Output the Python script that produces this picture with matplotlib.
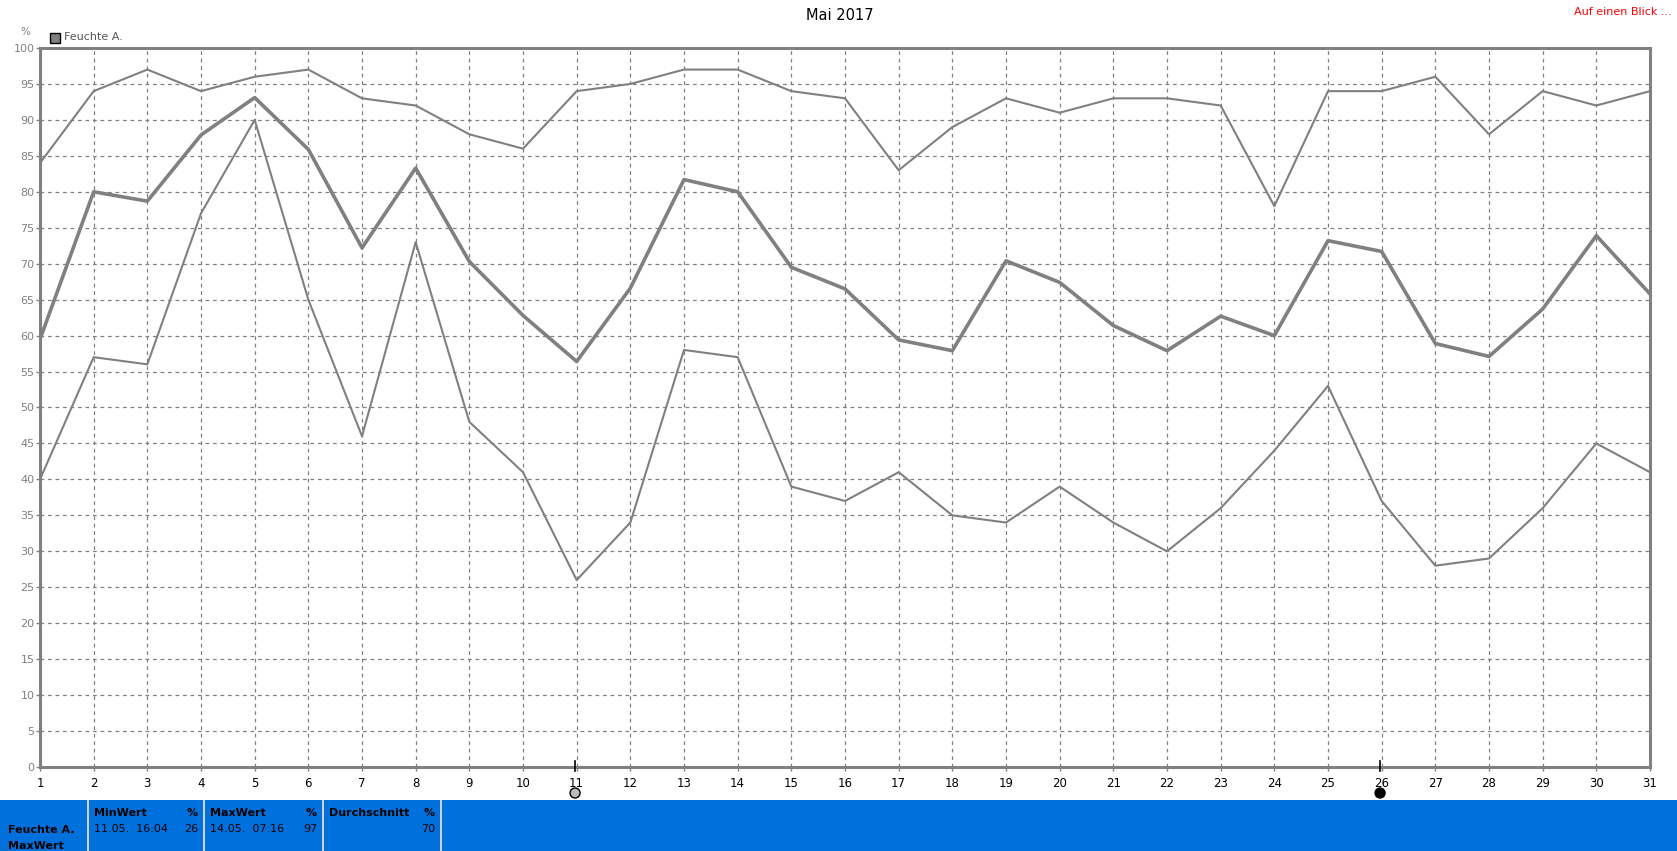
import matplotlib
matplotlib.use("Agg")
import matplotlib.pyplot as plt
from matplotlib.patches import Rectangle, Circle

# Daten: relative Feuchte Mai 2017
days = list(range(1, 32))
feuchte_max = [84, 94, 97, 94, 96, 97, 93, 92, 88, 86, 94, 95, 97, 97, 94, 93,
               83, 89, 93, 91, 93, 93, 92, 78, 94, 94, 96, 88, 94, 92, 94]
feuchte_avg = [59.5, 80, 78.7, 87.9, 93.1, 85.9, 72.2, 83.3, 70.3, 62.8, 56.4, 66.6,
               81.7, 80, 69.5, 66.5, 59.4, 57.9, 70.4, 67.4, 61.4, 57.9, 62.7, 60,
               73.2, 71.7, 58.9, 57.1, 63.7, 73.9, 65.8]
feuchte_min = [40, 57, 56, 77, 90, 65, 46, 73, 48, 41, 26, 34, 58, 57, 39, 37,
               41, 35, 34, 39, 34, 30, 36, 44, 53, 37, 28, 29, 36, 45, 41]
yticks = list(range(0, 101, 5))
full_moon_day = 10.97
new_moon_day = 25.97

# Statistik-Leiste
stat_titles = ["MinWert", "MaxWert", "Durchschnitt"]
stat_times = ["11.05.  16:04", "14.05.  07:16", ""]
stat_values = ["26", "97", "70"]

W, H = 1677, 851
fig = plt.figure(figsize=(W / 100, H / 100), dpi=100)
fig.patch.set_facecolor("white")

left, right, top, bottom = 40, 1650, 48, 767
ax = fig.add_axes([left / W, 1 - bottom / H, (right - left) / W, (bottom - top) / H])

grey = "#808080"
ax.plot(days, feuchte_max, color=grey, lw=1.5, zorder=3)
ax.plot(days, feuchte_min, color=grey, lw=1.5, zorder=3)
ax.plot(days, feuchte_avg, color=grey, lw=2.6, zorder=3)

ax.set_xlim(1, 31)
ax.set_ylim(0, 100)
ax.set_xticks(days)
ax.set_yticks(yticks)
ax.grid(True, color=grey, lw=0.9, linestyle=(0, (3, 3)))
ax.set_axisbelow(True)
for s in ax.spines.values():
    s.set_color(grey)
    s.set_linewidth(2.2)
ax.tick_params(axis="y", colors=grey, labelsize=8, length=3, width=1, pad=1)
ax.tick_params(axis="x", colors=grey, labelcolor="black", labelsize=8.5, length=3, width=1, pad=4)

# Mondphasen (Strich an der Achse + Symbol darunter)
px_per_day = (right - left) / 30
for d, fc in [(full_moon_day, "#bdbdbd"), (new_moon_day, "black")]:
    ax.plot([d, d], [-0.5, 0.8], color="black", lw=1.2, clip_on=False, zorder=5)
    cx = left + (d - 1) * px_per_day
    fig.patches.append(Circle((cx, H - 793), 5, transform=None, facecolor=fc,
                              edgecolor="black", lw=1))

# Texte oben
fig.text(840 / W, 1 - 15 / H, "Mai 2017", ha="center", va="center", fontsize=10.5)
fig.text(1672 / W, 1 - 12 / H, "Auf einen Blick ...", ha="right", va="center", fontsize=8, color="red")
fig.text(25 / W, 1 - 32 / H, "%", ha="center", va="center", fontsize=7.5, color=grey)
fig.patches.append(Rectangle((50, H - 43), 10, 10, transform=None, facecolor=grey,
                             edgecolor="black", lw=1))
fig.text(64 / W, 1 - 37 / H, "Feuchte A.", ha="left", va="center", fontsize=8, color="#555555")

# blaue Leiste unten
blue = "#0070dd"
fig.patches.append(Rectangle((0, 0), W, H - 800, transform=None, facecolor=blue, edgecolor="none"))
for xs in [88, 204, 323, 441]:
    fig.patches.append(Rectangle((xs - 1, 0), 2, H - 800, transform=None,
                                 facecolor="#d0d0d0", edgecolor="none"))
fig.text(8 / W, 1 - 830 / H, "Feuchte A.", fontsize=8, weight="bold", va="center")
fig.text(8 / W, 1 - 846 / H, "MaxWert", fontsize=8, weight="bold", va="center")
box_x = [(88, 204), (204, 323), (323, 441)]
for (x0, x1), t, tm, v in zip(box_x, stat_titles, stat_times, stat_values):
    fig.text((x0 + 6) / W, 1 - 813 / H, t, fontsize=8, weight="bold", va="center")
    fig.text((x1 - 6) / W, 1 - 813 / H, "%", fontsize=8, weight="bold", va="center", ha="right")
    fig.text((x0 + 6) / W, 1 - 829 / H, tm, fontsize=8, va="center")
    fig.text((x1 - 6) / W, 1 - 829 / H, v, fontsize=8, va="center", ha="right")

fig.savefig("out.png", dpi=100)
